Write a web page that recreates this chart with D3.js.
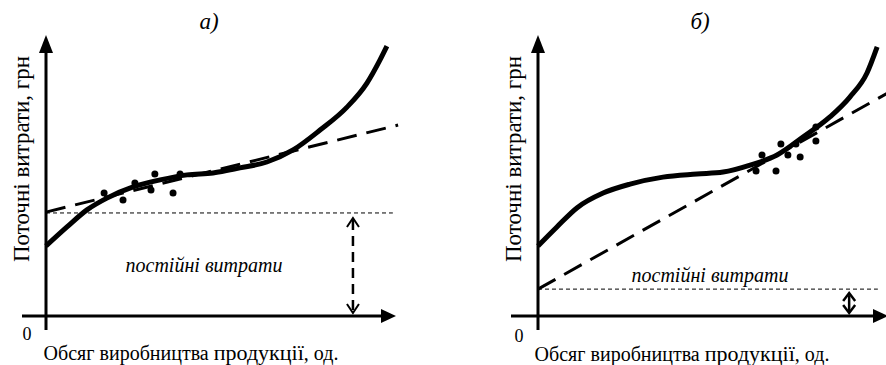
<!DOCTYPE html>
<html>
<head>
<meta charset="utf-8">
<script src="https://cdn.jsdelivr.net/npm/d3@7"></script>
<style>
  body { margin: 0; background: #fff; }
  svg { display: block; }
</style>
</head>
<body>
<div id="chart"></div>
<script>
// panel titles and labels
const titles = ['а)', 'б)'];
const yLabel = 'Поточні витрати, грн';
const xLabelParts = ['Обсяг виробництва ', 'продукції', ', од.'];
const fixedLabel = 'постійні витрати';

// total cost curve (x, y) in axis units 0..10
const curveA = [[0, 2.5], [0.6, 3.18], [1.17, 3.79], [1.74, 4.21], [2.49, 4.61], [3.26, 4.86],
  [4.03, 5.04], [4.77, 5.11], [5.54, 5.29], [6.31, 5.5], [7.06, 5.93], [7.83, 6.64],
  [8.6, 7.46], [9.17, 8.32], [9.54, 9.14], [9.74, 9.64]];
const curveB = [[0, 2.5], [0.54, 3.18], [1.11, 3.86], [1.86, 4.39], [2.63, 4.71], [3.57, 4.96],
  [4.54, 5.07], [5.29, 5.14], [6.06, 5.39], [6.83, 5.75], [7.57, 6.39], [8.34, 7.11],
  [8.91, 7.82], [9.4, 8.68], [9.69, 9.61]];

// observed points
const pointsA = [[1.66, 4.39], [2.2, 4.14], [2.54, 4.75], [3.0, 4.5], [3.11, 5.07], [3.63, 4.39], [3.83, 5.07]];
const pointsB = [[6.23, 5.18], [6.4, 5.75], [6.8, 5.18], [6.94, 6.14], [7.14, 5.75], [7.37, 6.14],
  [7.49, 5.68], [7.94, 6.75], [7.94, 6.25]];

// linear trend (start, end)
const trendA = [[0, 3.71], [10.06, 6.82]];
const trendB = [[0, 0.96], [10.1, 8.04]];

// fixed cost level, line end, arrow position
const fixedA = { level: 3.68, end: 9.91, arrowX: 8.77 };
const fixedB = { level: 0.96, end: 9.71, arrowX: 8.89 };

const W = 886, H = 365;
const FONT = '"Liberation Serif", "Times New Roman", "DejaVu Serif", serif';
const svg = d3.select('#chart').append('svg').attr('width', W).attr('height', H)
  .attr('font-family', FONT);

function drawPanel(opt) {
  const x = d3.scaleLinear().domain([0, 10]).range([opt.x0, opt.x0 + 350]);
  const y = d3.scaleLinear().domain([0, 10]).range([316, 36]);
  const g = svg.append('g');
  const X0 = x(0), Y0 = y(0);

  // axes
  g.append('line').attr('x1', X0).attr('x2', X0).attr('y1', 330).attr('y2', 50)
    .attr('stroke', '#000').attr('stroke-width', 3);
  g.append('path').attr('d', `M${X0 - 7},53 L${X0},35 L${X0 + 7},53 Z`).attr('fill', '#000');
  g.append('line').attr('x1', opt.axisStart).attr('x2', x(10) - 8).attr('y1', Y0).attr('y2', Y0)
    .attr('stroke', '#000').attr('stroke-width', 3);
  g.append('path').attr('d', `M${x(10) - 15},${Y0 - 7} L${x(10)},${Y0} L${x(10) - 15},${Y0 + 7} Z`).attr('fill', '#000');

  // fixed cost dashed level
  g.append('line').attr('x1', X0).attr('x2', x(opt.fixed.end))
    .attr('y1', y(opt.fixed.level)).attr('y2', y(opt.fixed.level))
    .attr('stroke', '#000').attr('stroke-width', 1).attr('stroke-dasharray', '4,3');

  // double arrow for fixed costs
  const ax = x(opt.fixed.arrowX), top = y(opt.fixed.level) + opt.arrowGap, bot = Y0 - 3;
  const ch = opt.chevron;
  g.append('line').attr('x1', ax).attr('x2', ax).attr('y1', top + 2).attr('y2', bot - 2)
    .attr('stroke', '#000').attr('stroke-width', 2.5).attr('stroke-dasharray', opt.arrowDash);
  g.append('path').attr('d', `M${ax - ch.w},${top + ch.h} L${ax},${top} L${ax + ch.w},${top + ch.h}`)
    .attr('fill', 'none').attr('stroke', '#000').attr('stroke-width', ch.s);
  g.append('path').attr('d', `M${ax - ch.w},${bot - ch.h} L${ax},${bot} L${ax + ch.w},${bot - ch.h}`)
    .attr('fill', 'none').attr('stroke', '#000').attr('stroke-width', ch.s);

  // trend line
  const line = d3.line().x(d => x(d[0])).y(d => y(d[1]));
  g.append('path').attr('d', line(opt.trend)).attr('fill', 'none')
    .attr('stroke', '#000').attr('stroke-width', 3).attr('stroke-dasharray', '20,10');

  // cost curve
  g.append('path').attr('d', line.curve(d3.curveMonotoneX)(opt.curve)).attr('fill', 'none')
    .attr('stroke', '#000').attr('stroke-width', 5);

  // points
  g.selectAll('circle.pt').data(opt.points).enter().append('circle')
    .attr('class', 'pt').attr('cx', d => x(d[0])).attr('cy', d => y(d[1])).attr('r', 3.5).attr('fill', '#000');

  // texts
  g.append('text').attr('x', opt.titleX).attr('y', 29).attr('text-anchor', 'middle')
    .attr('font-size', 23).attr('font-style', 'italic').text(opt.title);
  g.append('text').attr('transform', `translate(${X0 - 17},159) rotate(-90)`).attr('text-anchor', 'middle')
    .attr('font-size', 23).text(yLabel);
  g.append('text').attr('x', X0 - 19).attr('y', opt.zeroY).attr('text-anchor', 'middle')
    .attr('font-size', 18).text('0');
  const xl = g.append('text').attr('x', opt.xLabelX).attr('y', opt.xLabelY).attr('text-anchor', 'middle')
    .attr('font-size', 20);
  xl.selectAll('tspan').data(xLabelParts).enter().append('tspan')
    .attr('font-size', (d, i) => i === 1 ? 22 : 20).text(d => d);
  g.append('text').attr('x', opt.fixedTextX).attr('y', opt.fixedTextY).attr('text-anchor', 'middle')
    .attr('font-size', 20).attr('font-style', 'italic').text(fixedLabel);
}

drawPanel({
  x0: 46, axisStart: 22, title: titles[0], titleX: 209,
  curve: curveA, points: pointsA, trend: trendA, fixed: fixedA,
  arrowGap: 5, arrowDash: '10,6', chevron: { w: 6, h: 9, s: 2 },
  zeroY: 340, xLabelX: 191, xLabelY: 360, fixedTextX: 204, fixedTextY: 272
});
drawPanel({
  x0: 538, axisStart: 511, title: titles[1], titleX: 700,
  curve: curveB, points: pointsB, trend: trendB, fixed: fixedB,
  arrowGap: 4, arrowDash: 'none', chevron: { w: 6, h: 8, s: 2.5 },
  zeroY: 342, xLabelX: 682, xLabelY: 361, fixedTextX: 710, fixedTextY: 282
});
</script>
</body>
</html>
